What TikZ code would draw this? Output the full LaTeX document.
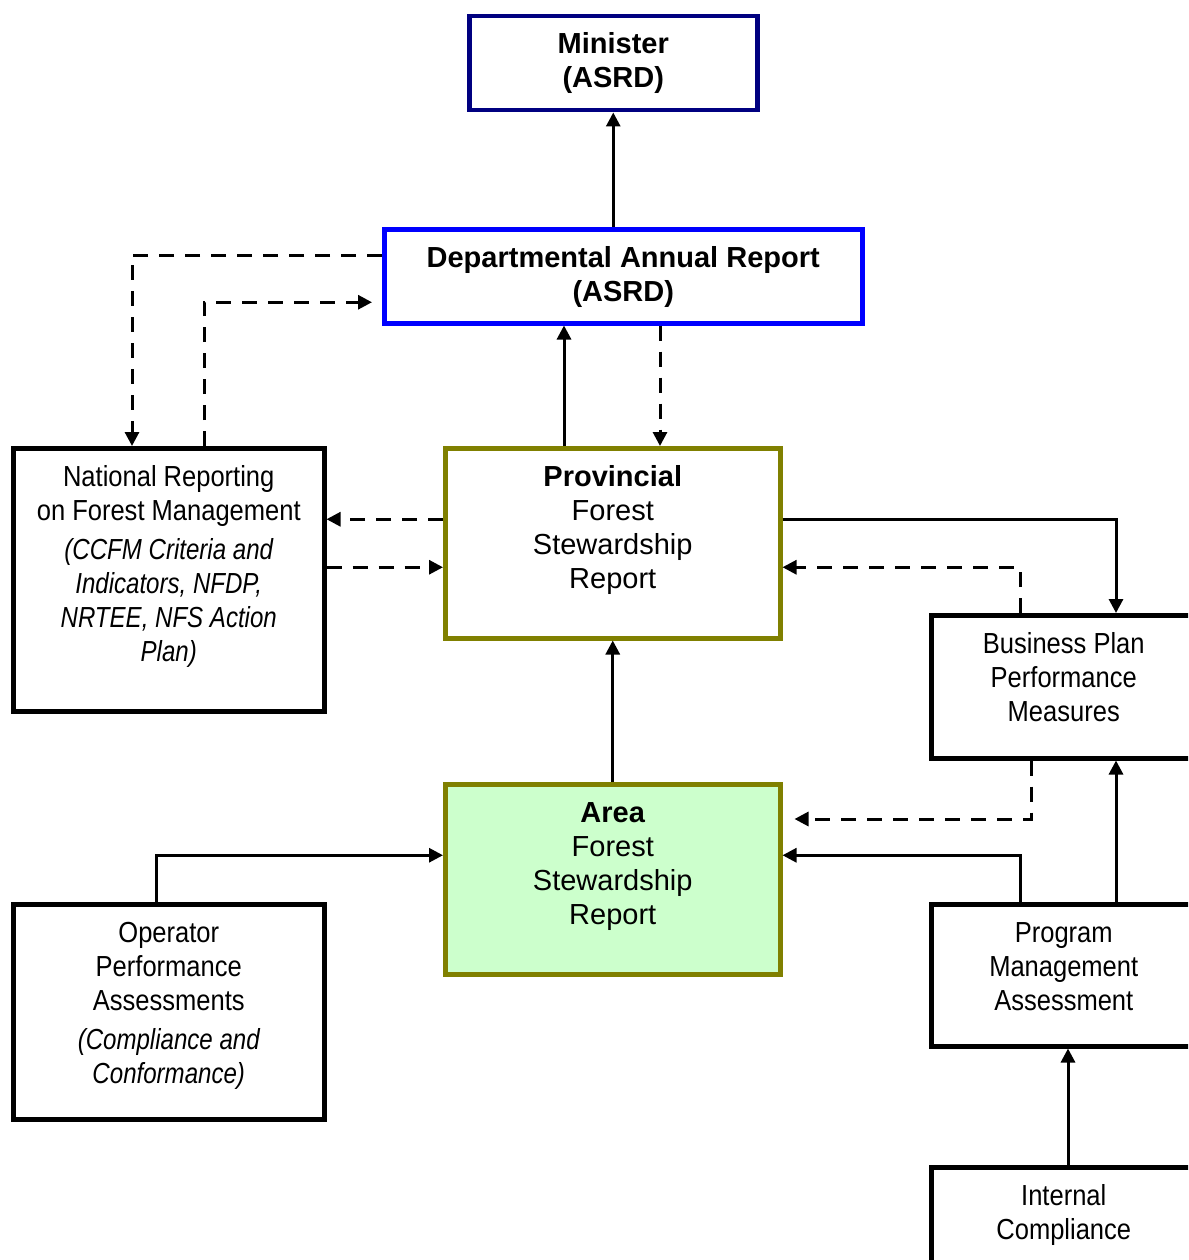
\documentclass[tikz,border=0pt]{standalone}
\usepackage{fontspec}
\setmainfont{Liberation Sans}
\newfontfamily\narrowfont[FakeStretch=0.88]{Liberation Sans}
\newfontfamily\narrowitfont[FakeStretch=0.83]{Liberation Sans}
\newcommand{\nit}[1]{{\narrowitfont\itshape #1}}
\usetikzlibrary{arrows.meta,calc}
\definecolor{navy}{RGB}{0,0,128}
\definecolor{deptblue}{RGB}{0,0,255}
\definecolor{olivec}{RGB}{128,128,0}
\definecolor{lightgreen}{RGB}{204,255,204}
\tikzset{
  box/.style={draw, line width=4.5pt, inner sep=0pt, anchor=north west, fill=white},
  txt/.style={align=center, inner sep=0pt, anchor=north, font=\fontsize{29}{34}\selectfont},
  ntxt/.style={align=center, inner sep=0pt, anchor=north, font=\narrowfont\fontsize{29}{34}\selectfont},
  conn/.style={line width=3pt, -{Triangle[length=14pt,width=14pt]}},
  dconn/.style={conn, dash pattern=on 15pt off 11pt},
}
\begin{document}
\begin{tikzpicture}[x=1pt,y=-1pt]
\useasboundingbox (0,0) rectangle (1188,1260);
\clip (0,0) rectangle (1188,1260);
\fill[white] (0,0) rectangle (1188,1260);

% boxes
\node[box, draw=navy, minimum width=288pt, minimum height=94pt] (min) at (467,14) {};
\node[box, draw=deptblue, minimum width=478pt, minimum height=94pt] (dept) at (382,227) {};
\node[box, minimum width=311pt, minimum height=263pt] (nat) at (11,446) {};
\node[box, draw=olivec, minimum width=335pt, minimum height=190pt] (prov) at (443,446) {};
\node[box, minimum width=265pt, minimum height=143pt] (bus) at (929,613) {};
\node[box, draw=olivec, fill=lightgreen, minimum width=335pt, minimum height=190pt] (area) at (443,782) {};
\node[box, minimum width=311pt, minimum height=215pt] (op) at (11,902) {};
\node[box, minimum width=265pt, minimum height=142pt] (pma) at (929,902) {};
\node[box, minimum width=265pt, minimum height=140pt] (ic) at (929,1165) {};

% texts
\node[txt] (minT) at ([yshift=-16pt]min.north) {\strut\textbf{Minister}\\\textbf{(ASRD)}};
\node[txt] (deptT) at ([yshift=-16pt]dept.north) {\strut\textbf{Departmental Annual Report}\\\textbf{(ASRD)}};
\node[ntxt] (natT) at ([yshift=-16pt]nat.north) {\strut National Reporting\\on Forest Management\\[5pt]\nit{(CCFM Criteria and}\\\nit{Indicators, NFDP,}\\\nit{NRTEE, NFS Action}\\\nit{Plan)}};
\node[txt] (provT) at ([yshift=-16pt]prov.north) {\strut\textbf{Provincial}\\Forest\\Stewardship\\Report};
\node[ntxt] (busT) at ([yshift=-16pt]bus.north) {\strut Business Plan\\Performance\\Measures};
\node[txt] (areaT) at ([yshift=-16pt]area.north) {\strut\textbf{Area}\\Forest\\Stewardship\\Report};
\node[ntxt] (opT) at ([yshift=-16pt]op.north) {\strut Operator\\Performance\\Assessments\\[5pt]\nit{(Compliance and}\\\nit{Conformance)}};
\node[ntxt] (pmaT) at ([yshift=-16pt]pma.north) {\strut Program\\Management\\Assessment};
\node[ntxt] (icT) at ([yshift=-16pt]ic.north) {\strut Internal\\Compliance};

% connectors
\draw[conn] (min.south |- dept.north) -- (min.south);
\draw[dconn] ($(dept.west)+(0,-21)$) -| ($(nat.north west)+(121,0)$);
\draw[dconn] ($(nat.north west)+(193,0)$) |- ($(dept.west)+(-10,26)$);
\draw[conn] ($(prov.north west)+(121,0)$) coordinate (p4) -- (p4 |- dept.south);
\draw[dconn] ($(dept.south west)+(278,0)$) coordinate (p5) -- (p5 |- prov.north);
\draw[dconn] ($(prov.west)+(0,-24)$) coordinate (p6) -- (p6 -| nat.east);
\draw[dconn] ($(nat.east)+(0,-12.5)$) coordinate (p7) -- (p7 -| prov.west);
\draw[conn] ($(prov.east)+(0,-24)$) -| ($(bus.north west)+(187,0)$);
\draw[dconn] ($(bus.north west)+(91,0)$) |- ($(prov.east)+(0,24)$);
\draw[conn] (area.north) -- (prov.south);
\draw[dconn] ($(bus.south west)+(102,0)$) |- ($(area.north east)+(12,37)$);
\draw[conn] ($(pma.north west)+(187,0)$) coordinate (p12) -- (p12 |- bus.south);
\draw[conn] ($(pma.north west)+(91,0)$) |- ($(area.east)+(0,-24)$);
\draw[conn] ($(op.north west)+(145,0)$) |- ($(area.west)+(0,-24)$);
\draw[conn] ($(ic.north west)+(139,0)$) coordinate (p15) -- (p15 |- pma.south);
\end{tikzpicture}
\end{document}
